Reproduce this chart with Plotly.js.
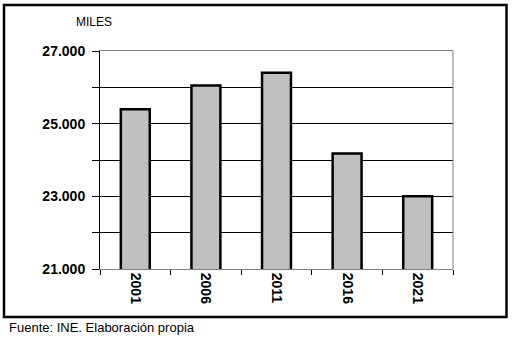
<!DOCTYPE html>
<html><head><meta charset="utf-8">
<script src="https://cdn.plot.ly/plotly-3.0.1.min.js"></script>
<style>html,body{margin:0;padding:0;background:#fff}#chart{width:513px;height:339px}</style>
</head><body><div id="chart"></div>
<script>
const years = ['2001', '2006', '2011', '2016', '2021'];
const values = [25400, 26050, 26400, 24180, 23000];
const yTickVals = [21000, 23000, 25000, 27000];
const unitLabel = 'MILES';
const sourceText = 'Fuente: INE. Elaboración propia';

const L = 100, R = 453, T = 51, B = 269;
const W = 513, H = 339;
const pw = R - L, ph = B - T;
const px = x => (x - L) / pw;
const py = y => (B - y) / ph;

const trace = {
  type: 'bar', x: years, y: values, width: 0.41,
  marker: {color: '#c0c0c0', line: {color: '#000', width: 2.5}},
  hoverinfo: 'skip'
};

const layout = {
  width: W, height: H,
  margin: {l: L, r: W - R, t: T, b: H - B},
  paper_bgcolor: '#fff', plot_bgcolor: '#fff',
  separators: ',.',
  showlegend: false,
  font: {family: 'Liberation Sans, Arial, sans-serif', color: '#000'},
  xaxis: {
    type: 'category', tickson: 'boundaries', ticks: 'outside', ticklen: 5,
    tickcolor: '#000', tickwidth: 1, tickangle: 90,
    showline: true, linecolor: '#808080', linewidth: 1, mirror: true,
    showgrid: false, tickfont: {size: 14, family: 'Liberation Sans, Arial, sans-serif', weight: 'bold'},
    range: [-0.5, 4.5]
  },
  yaxis: {
    range: [21000, 27000], tickvals: yTickVals, tickformat: ',d',
    ticks: 'outside', ticklen: 7, tickcolor: '#000', tickwidth: 1,
    showline: true, linecolor: '#000', linewidth: 1,
    showgrid: true, gridcolor: '#000', gridwidth: 1, zeroline: false,
    ticklabelstandoff: 4,
    tickfont: {size: 14, family: 'Liberation Sans, Arial, sans-serif', weight: 'bold'},
    minor: {dtick: 1000, tick0: 21000, ticks: 'outside', ticklen: 7, tickcolor: '#000',
            showgrid: true, gridcolor: '#000', gridwidth: 1}
  },
  shapes: [
    {type: 'line', xref: 'paper', yref: 'paper', x0: 1, x1: 1, y0: 0, y1: 1,
     line: {color: '#808080', width: 1}},
    {type: 'rect', xref: 'paper', yref: 'paper',
     x0: px(4), x1: px(506.5), y0: py(5), y1: py(317),
     line: {color: '#000', width: 2.5}, fillcolor: 'rgba(0,0,0,0)'}
  ],
  annotations: [
    {text: unitLabel, xref: 'paper', yref: 'paper', x: px(74), y: py(22),
     xanchor: 'left', yanchor: 'middle', showarrow: false,
     font: {size: 12, family: 'Liberation Sans, Arial, sans-serif'}},
    {text: sourceText, xref: 'paper', yref: 'paper', x: px(7), y: py(327),
     xanchor: 'left', yanchor: 'middle', showarrow: false,
     font: {size: 13, family: 'Liberation Sans, Arial, sans-serif'}}
  ]
};

Plotly.newPlot('chart', [trace], layout, {staticPlot: true, displayModeBar: false});
</script></body></html>
